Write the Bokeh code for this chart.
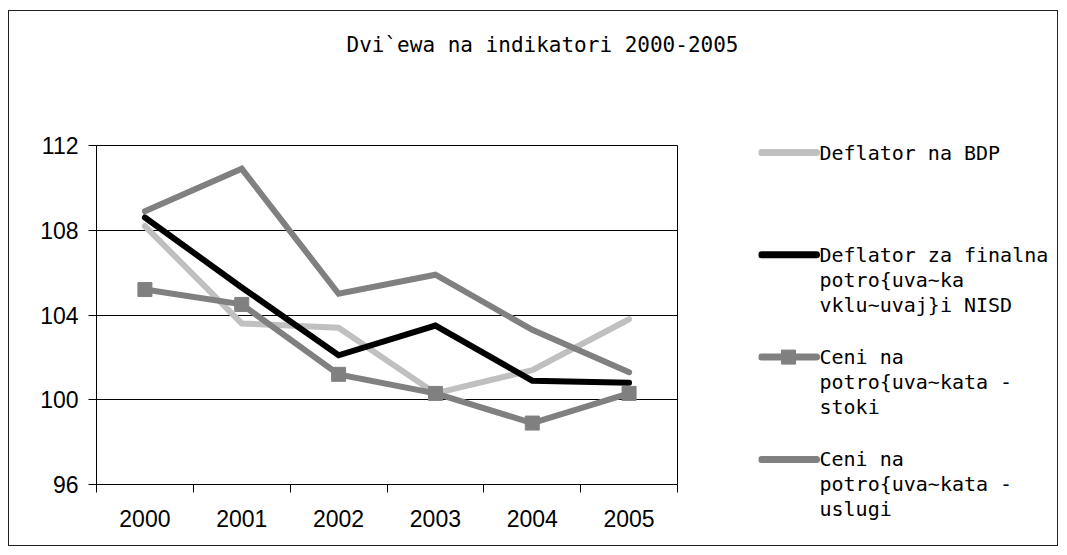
from bokeh.plotting import figure
from bokeh.layouts import column, row
from bokeh.models import Range1d, FixedTicker
from bokeh.core.properties import value
from bokeh.embed import file_html
from bokeh.resources import INLINE

# ---- data ----
title_text = "Dvi`ewa na indikatori 2000-2005"
years = ["2000", "2001", "2002", "2003", "2004", "2005"]
deflator_bdp = [108.2, 103.6, 103.4, 100.3, 101.4, 103.8]
deflator_finalna = [108.6, 105.3, 102.1, 103.5, 100.9, 100.8]
ceni_stoki = [105.2, 104.5, 101.2, 100.3, 98.9, 100.3]
ceni_uslugi = [108.9, 110.9, 105.0, 105.9, 103.3, 101.3]
y_ticks = [96, 100, 104, 108, 112]

legend_labels = [
    ["Deflator na BDP"],
    ["Deflator za finalna", "potro{uva~ka", "vklu~uvaj}i NISD"],
    ["Ceni na", "potro{uva~kata -", "stoki"],
    ["Ceni na", "potro{uva~kata -", "uslugi"],
]
series_colors = ["#c0c0c0", "#000000", "#808080", "#808080"]
series_markers = [False, False, True, False]
series = [deflator_bdp, deflator_finalna, ceni_stoki, ceni_uslugi]

MONO = "DejaVu Sans Mono"
SANS = "Liberation Sans"
LW = 6

# ---- title strip ----
TW, TH = 1048, 100
t = figure(width=TW, height=TH, x_range=Range1d(0, TW), y_range=Range1d(TH, 0),
           output_backend="svg", toolbar_location=None, min_border=0)
t.frame_align = False
t.axis.visible = False
t.grid.visible = False
t.outline_line_color = None
t.text(x=[TW / 2 + 9], y=[33], text=[title_text], text_align="center",
       text_baseline="middle", text_font=value(MONO), text_font_size="21px",
       text_color="black")

# ---- main plot ----
n = len(years)
xs = [i + 0.5 for i in range(n)]
p = figure(width=749, height=434, x_range=Range1d(0, n), y_range=Range1d(96, 112),
           output_backend="svg", toolbar_location=None,
           min_border_left=87, min_border_right=81, min_border_top=34, min_border_bottom=61)
p.frame_align = False
p.outline_line_color = "black"
p.outline_line_width = 1
p.xgrid.visible = False
p.ygrid.ticker = FixedTicker(ticks=y_ticks)
p.ygrid.grid_line_color = "black"
p.ygrid.grid_line_width = 1

p.yaxis.ticker = FixedTicker(ticks=y_ticks)
p.yaxis.major_tick_out = 8
p.yaxis.major_tick_in = 0
p.yaxis.minor_tick_line_color = None
p.yaxis.major_label_standoff = 10

p.xaxis.ticker = FixedTicker(ticks=xs, minor_ticks=list(range(n + 1)))
p.xaxis.major_label_overrides = {x: y for x, y in zip(xs, years)}
p.xaxis.major_tick_in = 0
p.xaxis.major_tick_out = 0
p.xaxis.minor_tick_in = 0
p.xaxis.minor_tick_out = 8
p.xaxis.minor_tick_line_color = "black"
p.xaxis.major_label_standoff = 17

for ax in (p.xaxis, p.yaxis):
    ax.axis_line_color = "black"
    ax.major_tick_line_color = "black"
    ax.major_label_text_font = SANS
    ax.major_label_text_font_size = "23px"
    ax.major_label_text_color = "black"

for vals, col, mk in zip(series, series_colors, series_markers):
    p.line(xs, vals, line_color=col, line_width=LW, line_cap="round", line_join="miter")
    if mk:
        p.scatter(xs, vals, marker="square", size=14, fill_color=col, line_color=col)

# ---- legend panel ----
LWD, LHT = 299, 434
q = figure(width=LWD, height=LHT, x_range=Range1d(0, LWD), y_range=Range1d(LHT, 0),
           output_backend="svg", toolbar_location=None, min_border=0)
q.frame_align = False
q.axis.visible = False
q.grid.visible = False
q.outline_line_color = None

item_y0, item_step, line_step = 41, 102.3, 25
tx, ty, tt = [], [], []
for k, (labels, col, mk) in enumerate(zip(legend_labels, series_colors, series_markers)):
    yc = item_y0 + k * item_step
    q.line([3, 58], [yc, yc], line_color=col, line_width=LW + 1, line_cap="round")
    if mk:
        q.scatter([30], [yc], marker="square", size=14, fill_color=col, line_color=col)
    for j, lab in enumerate(labels):
        tx.append(61)
        ty.append(yc + j * line_step)
        tt.append(lab)
q.text(x=tx, y=ty, text=tt, text_align="left", text_baseline="middle",
       text_font=value(MONO), text_font_size="20px", text_color="black")

layout = column(t, row(p, q), styles={"border": "1px solid #222"}, margin=(10, 0, 0, 8))

open("out.html", "w").write(file_html(layout, INLINE))
